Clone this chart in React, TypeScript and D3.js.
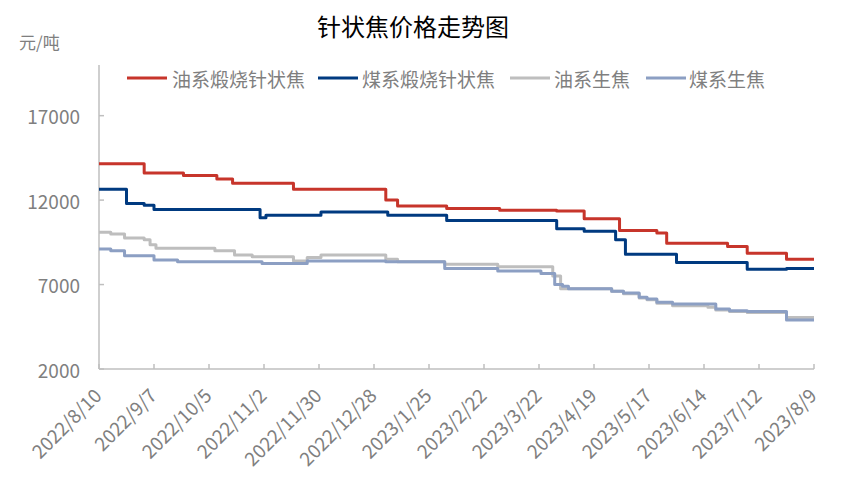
import React from 'react';
import * as d3 from 'd3';

const chartTitle = '针状焦价格走势图';
const yUnit = '元/吨';
const seriesNames = ['油系煅烧针状焦', '煤系煅烧针状焦', '油系生焦', '煤系生焦'];
const seriesColors = ['#C7352B', '#003A80', '#BEBEBE', '#8C9FC3'];
const startDate = '2022/8/10';
const endDate = '2023/8/9';
const xTickLabels = [
  '2022/8/10', '2022/9/7', '2022/10/5', '2022/11/2', '2022/11/30', '2022/12/28',
  '2023/1/25', '2023/2/22', '2023/3/22', '2023/4/19', '2023/5/17', '2023/6/14',
  '2023/7/12', '2023/8/9',
];
const yTicks = [2000, 7000, 12000, 17000];
const yMax = 20000;

// price change points: [date, price from that date]
const oilCalcined: [string, number][] = [
  ['2022/8/10', 14150], ['2022/9/2', 13600], ['2022/9/22', 13450], ['2022/10/9', 13250],
  ['2022/10/17', 13000], ['2022/11/17', 12650], ['2023/1/3', 12000], ['2023/1/9', 11650],
  ['2023/2/3', 11500], ['2023/3/2', 11400], ['2023/3/31', 11350], ['2023/4/14', 10900],
  ['2023/5/2', 10200], ['2023/5/21', 10050], ['2023/5/26', 9450], ['2023/6/26', 9250],
  ['2023/7/6', 8850], ['2023/7/26', 8500], ['2023/8/9', 8500],
];
const coalCalcined: [string, number][] = [
  ['2022/8/10', 12650], ['2022/8/24', 11800], ['2022/9/2', 11700], ['2022/9/7', 11450],
  ['2022/10/31', 10950], ['2022/11/3', 11100], ['2022/12/1', 11300], ['2023/1/4', 11100],
  ['2023/2/3', 10800], ['2023/3/31', 10300], ['2023/4/14', 10150], ['2023/4/30', 9650],
  ['2023/5/5', 8800], ['2023/5/31', 8300], ['2023/7/6', 7900], ['2023/7/26', 7950],
  ['2023/8/9', 7950],
];
const oilGreen: [string, number][] = [
  ['2022/8/10', 10100], ['2022/8/16', 10000], ['2022/8/23', 9750], ['2022/9/2', 9650],
  ['2022/9/5', 9350], ['2022/9/8', 9150], ['2022/10/8', 9000], ['2022/10/18', 8750],
  ['2022/10/27', 8650], ['2022/11/17', 8400], ['2022/11/24', 8600], ['2022/12/1', 8750],
  ['2023/1/3', 8500], ['2023/1/9', 8350], ['2023/2/2', 8200], ['2023/3/1', 8050],
  ['2023/3/29', 7500], ['2023/4/2', 6750], ['2023/4/28', 6600], ['2023/5/4', 6450],
  ['2023/5/12', 6200], ['2023/5/16', 6100], ['2023/5/21', 5900], ['2023/5/29', 5750],
  ['2023/6/16', 5650], ['2023/6/20', 5500], ['2023/6/27', 5400], ['2023/7/6', 5350],
  ['2023/7/26', 5050], ['2023/8/9', 5050],
];
const coalGreen: [string, number][] = [
  ['2022/8/10', 9100], ['2022/8/16', 9000], ['2022/8/23', 8700], ['2022/9/7', 8450],
  ['2022/9/19', 8350], ['2022/11/1', 8250], ['2022/11/24', 8400], ['2023/1/3', 8350],
  ['2023/2/2', 7950], ['2023/3/1', 7800], ['2023/3/23', 7650], ['2023/3/30', 7000],
  ['2023/4/3', 6900], ['2023/4/6', 6750], ['2023/4/28', 6600], ['2023/5/4', 6500],
  ['2023/5/12', 6250], ['2023/5/16', 6150], ['2023/5/21', 5950], ['2023/5/29', 5850],
  ['2023/6/20', 5550], ['2023/6/27', 5450], ['2023/7/6', 5400], ['2023/7/26', 4900],
  ['2023/8/9', 4900],
];
const allSeries = [oilCalcined, coalCalcined, oilGreen, coalGreen];

const W = 851;
const H = 504;
const plot = { left: 99, right: 814, top: 65, bottom: 369 };
const font = '"Noto Sans CJK SC", "Noto Sans", sans-serif';
const axisColor = '#BFBFBF';
const textColor = '#7F7F7F';

const legendItems = [
  { lineX: 127, textX: 172 },
  { lineX: 318, textX: 362 },
  { lineX: 510, textX: 554 },
  { lineX: 646, textX: 689 },
];

export default function App() {
  const parse = d3.utcParse('%Y/%m/%d');
  const x = d3.scaleUtc()
    .domain([parse(startDate) as Date, parse(endDate) as Date])
    .range([plot.left, plot.right]);
  const y = d3.scaleLinear().domain([2000, yMax]).range([plot.bottom, plot.top]);
  const line = d3.line<[string, number]>()
    .x((d) => x(parse(d[0]) as Date))
    .y((d) => y(d[1]))
    .curve(d3.curveStepAfter);

  return (
    <svg width={W} height={H} style={{ position: 'absolute', left: 0, top: 0, background: '#fff' }}
      fontFamily={font}>
      <rect x={0} y={0} width={W} height={H} fill="#fff" />
      <text x={413} y={36} textAnchor="middle" fontSize={24} fill="#000">{chartTitle}</text>
      <text x={19} y={49} fontSize={17} fill={textColor}>{yUnit}</text>

      {/* legend */}
      {seriesNames.map((name, i) => (
        <g key={name}>
          <line x1={legendItems[i].lineX} x2={legendItems[i].lineX + 40} y1={78} y2={78}
            stroke={seriesColors[i]} strokeWidth={3} />
          <text x={legendItems[i].textX} y={78} dominantBaseline="central" fontSize={19}
            fill={textColor}>{name}</text>
        </g>
      ))}

      {/* axes */}
      <line x1={plot.left} x2={plot.left} y1={plot.top} y2={plot.bottom} stroke={axisColor} strokeWidth={1.5} />
      <line x1={plot.left} x2={plot.right} y1={plot.bottom} y2={plot.bottom} stroke={axisColor} strokeWidth={1.5} />
      {yTicks.map((t) => (
        <g key={t}>
          <line x1={plot.left} x2={plot.left + 5} y1={y(t)} y2={y(t)} stroke={axisColor} strokeWidth={1.5} />
          <text x={80} y={y(t)} textAnchor="end" dominantBaseline="central" fontSize={19}
            fill={textColor}>{t}</text>
        </g>
      ))}
      {xTickLabels.map((lab) => {
        const tx = x(parse(lab) as Date);
        return (
          <g key={lab}>
            <line x1={tx} x2={tx} y1={plot.bottom} y2={plot.bottom - 5} stroke={axisColor} strokeWidth={1.5} />
            <text transform={`translate(${tx + 4},${plot.bottom + 28}) rotate(-45)`} textAnchor="end"
              fontSize={19} fill={textColor}>{lab}</text>
          </g>
        );
      })}

      {/* series */}
      {allSeries.map((s, i) => (
        <path key={seriesNames[i]} d={line(s) || ''} fill="none" stroke={seriesColors[i]}
          strokeWidth={3} strokeLinejoin="round" />
      ))}
    </svg>
  );
}
